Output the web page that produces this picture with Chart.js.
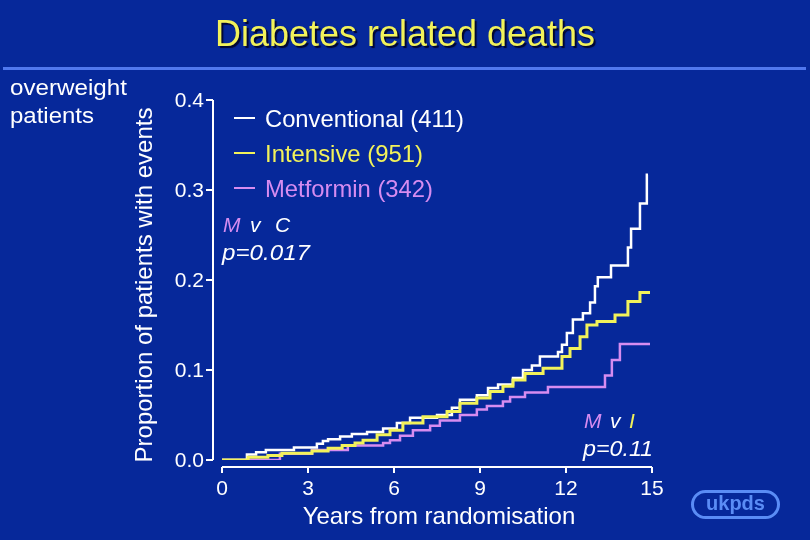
<!DOCTYPE html>
<html><head><meta charset="utf-8">
<script src="https://cdn.jsdelivr.net/npm/chart.js@4/dist/chart.umd.min.js"></script>
<style>html,body{margin:0;padding:0;background:#06289a;}#wrap{width:810px;height:540px;}</style>
</head><body><div id="wrap"><canvas id="c" width="810" height="540"></canvas></div>
<script>
const chartTitle = 'Diabetes related deaths';
const groupLabel = ['overweight', 'patients'];
const xTitle = 'Years from randomisation';
const yTitle = 'Proportion of patients with events';
const xTicks = [0, 3, 6, 9, 12, 15];
const yTicks = [0, 0.1, 0.2, 0.3, 0.4];
const yTickLabels = ['0.0', '0.1', '0.2', '0.3', '0.4'];
const seriesNames = ['Conventional (411)', 'Intensive (951)', 'Metformin (342)'];

const conventionalYears = [0, 0.87, 1.19, 1.53, 2.51, 3.31, 3.52, 3.70, 4.12, 4.53, 5.06, 5.62, 6.10, 6.56, 7.50, 8.02, 8.30, 8.89, 9.28, 9.63, 10.15, 10.50, 10.81, 11.09, 11.72, 11.86, 12.03, 12.24, 12.59, 12.84, 13.01, 13.11, 13.57, 14.16, 14.27, 14.58, 14.82, 14.86];
const conventionalValues = [0, 0.006, 0.0085, 0.011, 0.014, 0.018, 0.021, 0.023, 0.026, 0.029, 0.031, 0.035, 0.041, 0.047, 0.050, 0.058, 0.067, 0.072, 0.080, 0.084, 0.091, 0.100, 0.105, 0.115, 0.120, 0.128, 0.141, 0.156, 0.163, 0.175, 0.193, 0.203, 0.216, 0.236, 0.257, 0.285, 0.317, 0.317];

const intensiveYears = [0, 0.91, 1.60, 2.09, 3.14, 3.70, 4.19, 4.64, 4.92, 5.41, 5.86, 6.31, 7.01, 7.85, 8.30, 8.89, 9.35, 9.80, 10.15, 10.57, 11.20, 11.86, 12.14, 12.49, 12.73, 13.08, 13.71, 14.16, 14.58, 14.93];
const intensiveValues = [0, 0.003, 0.005, 0.0075, 0.010, 0.013, 0.016, 0.019, 0.022, 0.028, 0.033, 0.041, 0.048, 0.054, 0.063, 0.069, 0.076, 0.082, 0.089, 0.096, 0.102, 0.115, 0.124, 0.137, 0.150, 0.154, 0.161, 0.176, 0.186, 0.186];

const metforminYears = [0, 2.02, 3.14, 4.39, 5.62, 5.86, 6.21, 6.66, 7.26, 7.60, 8.30, 8.89, 9.24, 9.80, 10.05, 10.57, 11.37, 13.36, 13.60, 13.88, 14.93];
const metforminValues = [0, 0.007, 0.011, 0.016, 0.019, 0.022, 0.027, 0.033, 0.038, 0.044, 0.050, 0.056, 0.060, 0.065, 0.070, 0.075, 0.081, 0.094, 0.111, 0.129, 0.129];

const BG = '#06289a';
const WHITE = '#ffffff';
const YELLOW = '#f2f25a';
const PINK = '#d68cf0';
const LOGO = '#5a8cf5';
const FONT = '"Liberation Sans", Arial, sans-serif';

function pts(xs, ys) { return xs.map((x, i) => ({ x: x, y: ys[i] })); }

function fitText(ctx, text, x, y, size, color, targetW, style) {
  ctx.save();
  ctx.font = (style || '') + ' ' + size + 'px ' + FONT;
  ctx.fillStyle = color;
  ctx.textAlign = 'left';
  ctx.textBaseline = 'alphabetic';
  const w = ctx.measureText(text).width;
  const sx = targetW ? targetW / w : 1;
  ctx.translate(x, y);
  ctx.scale(sx, 1);
  ctx.fillText(text, 0, 0);
  ctx.restore();
}

const decor = {
  id: 'decor',
  beforeDraw(chart) {
    const ctx = chart.ctx;
    ctx.save();
    ctx.fillStyle = BG;
    ctx.fillRect(0, 0, chart.width, chart.height);
    ctx.restore();
  },
  afterDraw(chart) {
    const ctx = chart.ctx;
    const xs = chart.scales.x, ys = chart.scales.y;
    ctx.save();
    // title with shadow
    ctx.save();
    ctx.shadowColor = 'rgba(0,0,30,0.85)';
    ctx.shadowOffsetX = 2; ctx.shadowOffsetY = 2; ctx.shadowBlur = 1;
    fitText(ctx, chartTitle, 215, 46, 36, YELLOW, 380);
    ctx.restore();
    // rule
    ctx.fillStyle = '#5078ee';
    ctx.fillRect(3, 67, 803, 3);
    // group label
    fitText(ctx, groupLabel[0], 10, 95, 22, WHITE, 117);
    fitText(ctx, groupLabel[1], 10, 123, 22, WHITE, 84);

    // axes
    ctx.strokeStyle = WHITE;
    ctx.lineWidth = 2;
    const axX = 213, axY = 467;
    ctx.beginPath();
    ctx.moveTo(axX, ys.getPixelForValue(yTicks[yTicks.length - 1]));
    ctx.lineTo(axX, ys.getPixelForValue(yTicks[0]));
    yTicks.forEach(v => {
      const py = ys.getPixelForValue(v);
      ctx.moveTo(axX - 7, py); ctx.lineTo(axX, py);
    });
    ctx.moveTo(xs.getPixelForValue(xTicks[0]), axY);
    ctx.lineTo(xs.getPixelForValue(xTicks[xTicks.length - 1]), axY);
    xTicks.forEach(v => {
      const px = xs.getPixelForValue(v);
      ctx.moveTo(px, axY); ctx.lineTo(px, axY + 6);
    });
    ctx.stroke();

    ctx.fillStyle = WHITE;
    ctx.font = '21px ' + FONT;
    ctx.textAlign = 'right'; ctx.textBaseline = 'middle';
    yTicks.forEach((v, i) => ctx.fillText(yTickLabels[i], 204, ys.getPixelForValue(v) + 1));
    ctx.textAlign = 'center'; ctx.textBaseline = 'middle';
    xTicks.forEach(v => ctx.fillText(String(v), xs.getPixelForValue(v), 489));

    // axis titles
    ctx.font = '24px ' + FONT;
    ctx.textAlign = 'center'; ctx.textBaseline = 'alphabetic';
    ctx.fillText(xTitle, 439, 524);
    ctx.save();
    ctx.translate(152, 285);
    ctx.rotate(-Math.PI / 2);
    ctx.fillText(yTitle, 0, 0);
    ctx.restore();

    // legend
    const legColors = [WHITE, YELLOW, PINK];
    const legDashY = [118, 153, 188];
    const legBase = [127, 162, 197];
    const legW = [199, 158, 168];
    seriesNames.forEach((name, i) => {
      ctx.strokeStyle = legColors[i];
      ctx.lineWidth = 2;
      ctx.beginPath();
      ctx.moveTo(234, legDashY[i]); ctx.lineTo(255, legDashY[i]);
      ctx.stroke();
      fitText(ctx, name, 265, legBase[i], 24, legColors[i], legW[i]);
    });

    // annotations
    fitText(ctx, 'M', 223, 232, 21, PINK, null, 'italic');
    fitText(ctx, 'v', 250, 232, 21, WHITE, null, 'italic');
    fitText(ctx, 'C', 275, 232, 21, WHITE, null, 'italic');
    fitText(ctx, 'p=0.017', 222, 260, 22, WHITE, 88, 'italic');
    fitText(ctx, 'M', 584, 428, 21, PINK, null, 'italic');
    fitText(ctx, 'v', 610, 428, 21, WHITE, null, 'italic');
    fitText(ctx, 'I', 629, 428, 21, YELLOW, null, 'italic');
    fitText(ctx, 'p=0.11', 583, 456, 22, WHITE, 70, 'italic');

    // logo
    ctx.strokeStyle = LOGO;
    ctx.lineWidth = 3;
    ctx.beginPath();
    ctx.roundRect(692.5, 491.5, 86, 26, 13);
    ctx.stroke();
    ctx.fillStyle = LOGO;
    ctx.font = 'bold 20px ' + FONT;
    ctx.textAlign = 'center'; ctx.textBaseline = 'middle';
    ctx.fillText('ukpds', 735.5, 504);
    ctx.restore();
  }
};

new Chart(document.getElementById('c'), {
  type: 'line',
  data: {
    datasets: [
      { label: seriesNames[1], data: pts(intensiveYears, intensiveValues), borderColor: YELLOW, borderWidth: 3, stepped: true, pointRadius: 0, fill: false },
      { label: seriesNames[0], data: pts(conventionalYears, conventionalValues), borderColor: WHITE, borderWidth: 2.5, stepped: true, pointRadius: 0, fill: false },
      { label: seriesNames[2], data: pts(metforminYears, metforminValues), borderColor: PINK, borderWidth: 2.5, stepped: true, pointRadius: 0, fill: false }
    ]
  },
  options: {
    responsive: false,
    animation: false,
    devicePixelRatio: 1,
    layout: { padding: { left: 222, right: 158, top: 100, bottom: 80 } },
    scales: {
      x: { type: 'linear', min: 0, max: 15, display: false },
      y: { type: 'linear', min: 0, max: 0.4, display: false }
    },
    plugins: { legend: { display: false }, tooltip: { enabled: false }, title: { display: false } }
  },
  plugins: [decor]
});
</script>
</body></html>
